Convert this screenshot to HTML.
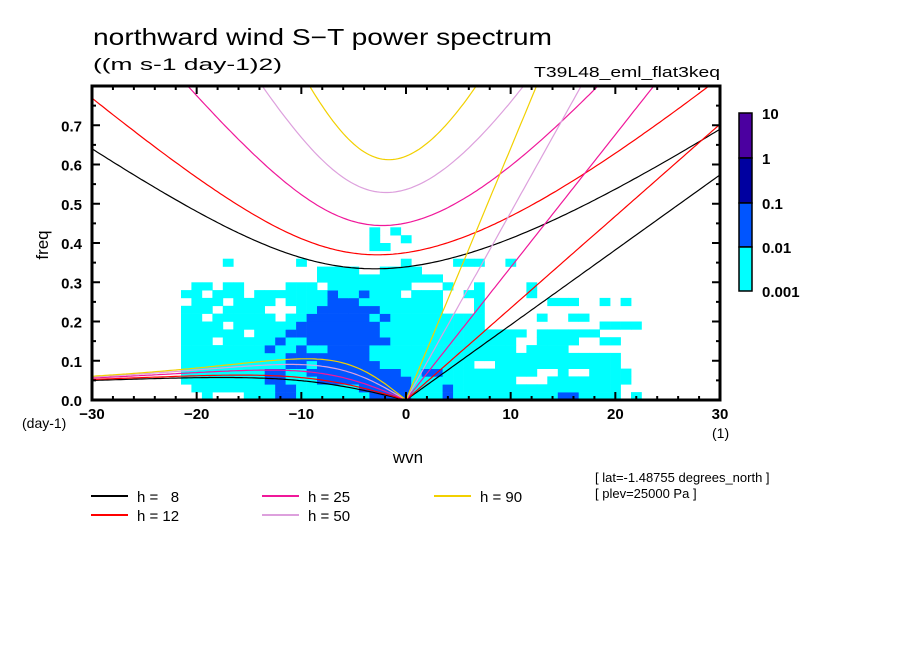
<!DOCTYPE html>
<html><head><meta charset="utf-8"><style>
html,body{margin:0;padding:0;background:#fff;}
svg{display:block;font-family:"Liberation Sans",sans-serif;}
</style></head><body>
<svg id="chart" width="904" height="654" viewBox="0 0 904 654" xmlns="http://www.w3.org/2000/svg">
<rect width="904" height="654" fill="#fff"/>
<text x="93" y="45" font-size="23" textLength="459" lengthAdjust="spacingAndGlyphs">northward wind S−T power spectrum</text>
<text x="93" y="70" font-size="17" textLength="189" lengthAdjust="spacingAndGlyphs">((m s-1 day-1)2)</text>
<text x="720" y="77" font-size="15" text-anchor="end" textLength="186" lengthAdjust="spacingAndGlyphs">T39L48_eml_flat3keq</text>
<g id="cells"></g>
<g id="curves"></g>
<g id="axes"></g>
<text x="48" y="245" font-size="17" text-anchor="middle" transform="rotate(-90 48 245)">freq</text>
<text x="22" y="428" font-size="14">(day-1)</text>
<text x="712" y="438" font-size="14">(1)</text>
<text x="408" y="463" font-size="17" text-anchor="middle">wvn</text>
<g id="legend"></g>
<text x="595" y="482" font-size="13">[ lat=-1.48755 degrees_north ]</text>
<text x="595" y="498" font-size="13">[ plev=25000 Pa ]</text>
<g id="cbar"></g>
</svg>
<script>
// ---- data ----
const depths = [8, 12, 25, 50, 90];
const depthColors = ["#000000", "#ff0000", "#f0189a", "#dda0dd", "#f2d000"];
const xTicks = [-30, -20, -10, 0, 10, 20, 30];
const yTicks = [0.0, 0.1, 0.2, 0.3, 0.4, 0.5, 0.6, 0.7];
const cbarLabels = ["10", "1", "0.1", "0.01", "0.001"];
const cbarColors = ["#4b00a0", "#0000a0", "#0055ff", "#00ffff"];
const levelColors = ["none", "#00ffff", "#0055ff"];
const gridK0 = -22;      // first wavenumber column
const gridDf = 0.02;     // frequency band width
// rows from f=0 upward; columns k=-22..24 ; 0 none, 1 >0.001, 2 >0.01
const spectrumRows = [
 "0001000111221111111222"+"2111211111111112211110100",
 "0011111111221111112222"+"2111211111111111111110000",
 "0111111112211122222222"+"2111111111100011111111000",
 "0111111112211222222222"+"1122111111111001001111000",
 "0111111111122122222211"+"1111111001111111111110000",
 "0111111111122222222111"+"1111111111111111111110000",
 "0111111112112112222111"+"1111111111101111000000000",
 "0111011111211222222221"+"1111111111100111100110000",
 "0111111011122222222211"+"1111111111110111111000000",
 "0111101111112222222211"+"1111111100000000000111100",
 "0110111111011222222121"+"1111111100000100110000000",
 "0111011110001122222211"+"1111000100000000000000000",
 "0011101111011112221111"+"1111000100000011100101000",
 "0110111011111112112111"+"0111001100001000000000000",
 "0011011000011101111111"+"1000100100001000000000000",
 "0000000000000011111111"+"1111000000000000000000000",
 "0000000000000011110011"+"1100000000000000000000000",
 "0000010000001000000000"+"1000011100100000000000000",
 "0000000000000000000000"+"0000000000000000000000000",
 "0000000000000000000110"+"0000000000000000000000000",
 "0000000000000000000100"+"1000000000000000000000000",
 "0000000000000000000101"+"0000000000000000000000000"
];
const NS = "http://www.w3.org/2000/svg";
const X0 = 92, X1 = 720, Y0 = 400, Y1 = 86;
const xMin = -30, xMax = 30, yMin = 0, yMax = 0.8;
const sx = k => X0 + (k - xMin) / (xMax - xMin) * (X1 - X0);
const sy = f => Y0 - (f - yMin) / (yMax - yMin) * (Y0 - Y1);
function mk(tag, attrs, parent){const e=document.createElementNS(NS,tag);for(const a in attrs)e.setAttribute(a,attrs[a]);parent.appendChild(e);return e;}

// ---- shading ----
const cells = document.getElementById('cells');
spectrumRows.forEach((row, r) => {
  for (let j = 0; j < row.length; j++) {
    const lv = +row[j];
    if (!lv) continue;
    const k = gridK0 + j;
    const x = sx(k - 0.5), w = sx(k + 0.5) - x;
    const yTop = sy((r + 1) * gridDf), h = sy(r * gridDf) - yTop;
    const c = mk('rect', {x: x.toFixed(1), y: yTop.toFixed(1), width: (w+0.3).toFixed(1), height: (h+0.3).toFixed(1), fill: levelColors[lv]}, cells);
    
    
  }
});

// ---- dispersion curves ----
const a = 6.371e6, Om = 7.292e-5, beta = 2 * Om / a, g = 9.81;
const toCpd = w => w * 86400 / (2 * Math.PI);
function roots(s, c) {
  const k = s / a, A = c*c*k*k + 3*beta*c, B = beta*k*c*c;
  const f = w => w*w*w - A*w - B;
  const bis = (lo, hi) => { for (let i=0;i<80;i++){const m=(lo+hi)/2; if ((f(lo)>0)===(f(m)>0)) lo=m; else hi=m;} return (lo+hi)/2; };
  const s3 = Math.sqrt(A/3);
  const ig = bis(s3, 3*Math.sqrt(A) + 1e-3);
  const ro = k < 0 ? bis(0, s3) : 0;
  return {ig: toCpd(ig), ro: toCpd(ro), kel: toCpd(c*k)};
}
const curves = document.getElementById('curves');
const clip = mk('clipPath', {id: 'plotclip'}, curves);
mk('rect', {x: X0, y: Y1, width: X1-X0, height: Y0-Y1}, clip);
const cg = mk('g', {'clip-path': 'url(#plotclip)'}, curves);
depths.forEach((h, i) => {
  const c = Math.sqrt(g * h);
  let ig = [], ro = [], kel = [];
  for (let s = -30; s <= 30.001; s += 0.25) {
    const r = roots(s, c);
    ig.push(sx(s).toFixed(1) + ',' + sy(r.ig).toFixed(1));
    if (s <= 0) ro.push(sx(s).toFixed(1) + ',' + sy(r.ro).toFixed(1));
    if (s >= 0) kel.push(sx(s).toFixed(1) + ',' + sy(r.kel).toFixed(1));
  }
  [['ig', ig], ['rossby', ro], ['kelvin', kel]].forEach(([nm, pts]) => {
    const p = mk('polyline', {points: pts.join(' '), fill: 'none', stroke: depthColors[i], 'stroke-width': 1.2}, cg);
    
    
  });
});

// ---- axes ----
const ax = document.getElementById('axes');
const frame = mk('rect', {x: X0, y: Y1, width: X1-X0, height: Y0-Y1, fill: 'none', stroke: '#000', 'stroke-width': 3}, ax);


for (let k = -30; k <= 30; k += 2) {
  const L = (k % 10 === 0) ? 8 : 4;
  mk('line', {x1: sx(k), x2: sx(k), y1: Y0, y2: Y0 - L, stroke: '#000', 'stroke-width': 2}, ax);
  mk('line', {x1: sx(k), x2: sx(k), y1: Y1, y2: Y1 + L, stroke: '#000', 'stroke-width': 2}, ax);
}
for (let q = 1; q < 16; q++) {
  const f = q * 0.05, L = (q % 2 === 0) ? 8 : 4;
  mk('line', {x1: X0, x2: X0 + L, y1: sy(f), y2: sy(f), stroke: '#000', 'stroke-width': 2}, ax);
  mk('line', {x1: X1, x2: X1 - L, y1: sy(f), y2: sy(f), stroke: '#000', 'stroke-width': 2}, ax);
}
xTicks.forEach(k => {
  const t = mk('text', {x: sx(k), y: 419, 'font-size': 15, 'text-anchor': 'middle', 'font-weight': 'bold'}, ax);
  t.textContent = k < 0 ? '−' + Math.abs(k) : String(k);
  
  
});
yTicks.forEach(f => {
  const t = mk('text', {x: 82, y: sy(f) + 6, 'font-size': 15, 'text-anchor': 'end', 'font-weight': 'bold'}, ax);
  t.textContent = f.toFixed(1);
  
  
});

// ---- legend ----
const lg = document.getElementById('legend');
const legPos = [[91,496],[91,515],[262,496],[262,515],[434,496]];
depths.forEach((h, i) => {
  const [x, y] = legPos[i];
  const e = mk('g', {}, lg);
  
  
  mk('line', {x1: x, x2: x + 37, y1: y, y2: y, stroke: depthColors[i], 'stroke-width': 2}, e);
  const t = mk('text', {x: x + 46, y: y + 6, 'font-size': 15}, e);
  t.textContent = 'h = ' + (h < 10 ? '\u00a0\u00a0' : '') + h;
});

// ---- colorbar ----
const cb = document.getElementById('cbar');
const cbY = [113, 158, 203, 247, 291];
cbarColors.forEach((col, i) => {
  const r = mk('rect', {x: 739, y: cbY[i], width: 13, height: cbY[i+1]-cbY[i], fill: col, stroke: '#000', 'stroke-width': 1.5}, cb);
  
  
});
cbarLabels.forEach((l, i) => {
  const t = mk('text', {x: 762, y: cbY[i] + 6, 'font-size': 15, 'font-weight': 'bold'}, cb);
  t.textContent = l;
  
  
});
</script>
</body></html>
